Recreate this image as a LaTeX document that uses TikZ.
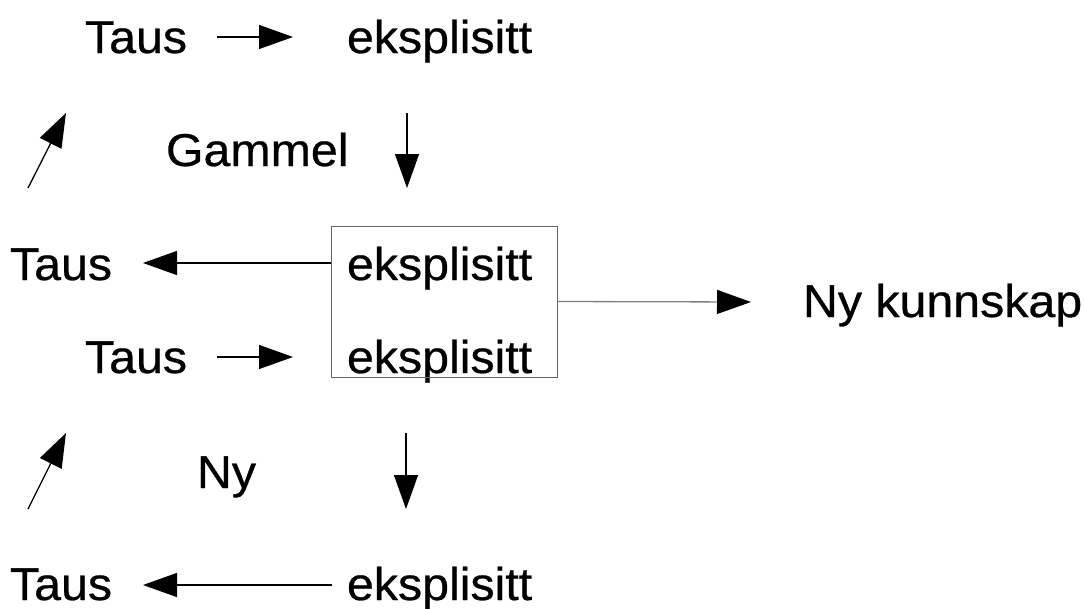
\documentclass[tikz,border=0pt]{standalone}
\usepackage{fontspec}
\setmainfont{Liberation Sans}[FakeStretch=1.05, FakeBold=0.6]
\usetikzlibrary{arrows.meta}

\tikzset{
  word/.style={anchor=base west, inner sep=0pt, outer sep=0pt,
    font=\fontsize{46pt}{55pt}\selectfont},
  flow/.style={line width=1.3pt, -{Triangle[length=34pt, width=24pt]}},
  greyflow/.style={line width=1.3pt, draw=black!50, -{Triangle[length=34pt, width=24pt, color=black]}},
  framebox/.style={draw=black!60, line width=1pt, inner sep=0pt, outer sep=0pt}
}

\begin{document}
\begin{tikzpicture}[x=1pt, y=-1pt]
  \useasboundingbox (0,0) rectangle (1086,608);

  % words
  \node[word] (t1) at (85,53) {Taus};
  \node[word] (e1) at (347,53) {eksplisitt};
  \node[word] (gammel) at (166,166) {Gammel};
  \node[word] (t2) at (10,280) {Taus};
  \node[word] (eb1) at (347,280) {eksplisitt};
  \node[word] (t3) at (85,373) {Taus};
  \node[word] (eb2) at (347,373) {eksplisitt};
  \node[word] (nk) at (803,317) {Ny kunnskap};
  \node[word] (ny) at (197,488) {Ny};
  \node[word] (t4) at (10,600) {Taus};
  \node[word] (e4) at (347,600) {eksplisitt};

  % frame round the two middle words
  \node[framebox, minimum width=226pt, minimum height=151pt] (box) at (444,301.5) {};

  % arrow end points
  \coordinate (a1s) at (217,37);   \coordinate (a1e) at (293,37);
  \coordinate (v1s) at (407,113);  \coordinate (v1e) at (407,188);
  \coordinate (d1s) at (28,188);   \coordinate (d1e) at (66,113);
  \coordinate (l1s) at (box.west |- 0,263); \coordinate (l1e) at (143,263);
  \coordinate (r1e) at (751,302);
  \coordinate (a2s) at (217,357);  \coordinate (a2e) at (293,357);
  \coordinate (d2s) at (28,509);   \coordinate (d2e) at (66,433);
  \coordinate (v2s) at (406,433);  \coordinate (v2e) at (406,509);
  \coordinate (b1s) at (332,585);  \coordinate (b1e) at (143,585);

  % connectors
  \draw[flow] (a1s) -- (a1e);
  \draw[flow] (v1s) -- (v1e);
  \draw[flow] (d1s) -- (d1e);
  \draw[flow] (l1s) -- (l1e);
  \draw[greyflow] (box.east) -- (r1e);
  \draw[flow] (a2s) -- (a2e);
  \draw[flow] (d2s) -- (d2e);
  \draw[flow] (v2s) -- (v2e);
  \draw[flow] (b1s) -- (b1e);
\end{tikzpicture}
\end{document}
